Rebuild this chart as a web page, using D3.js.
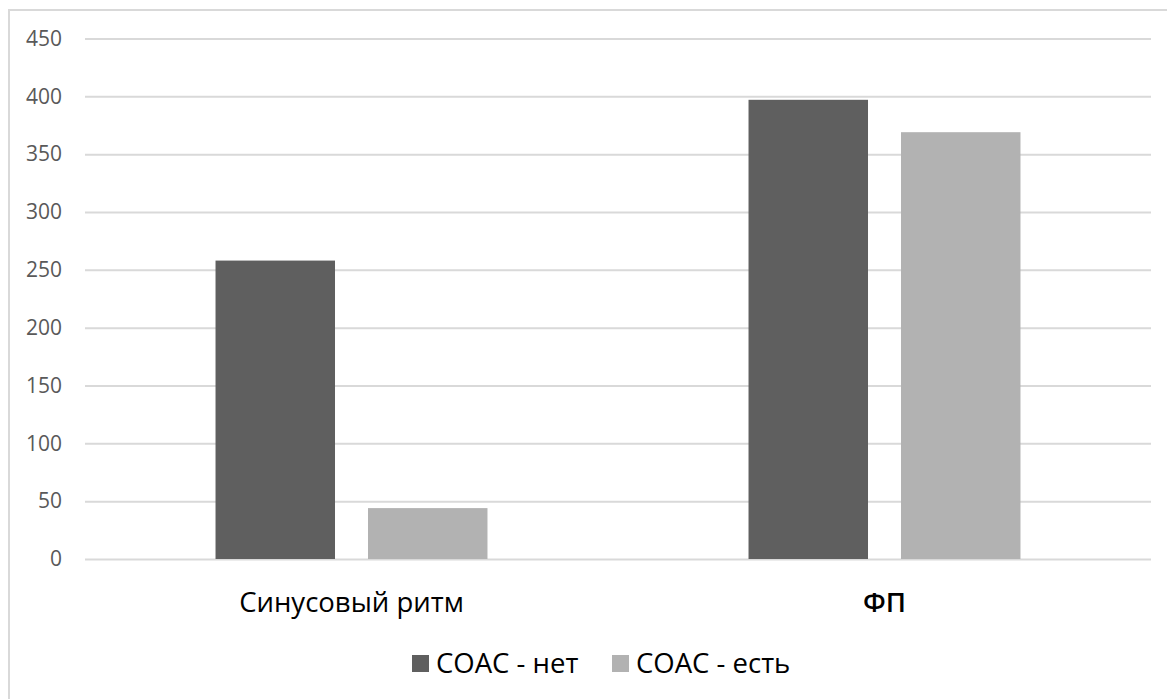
<!DOCTYPE html>
<html>
<head>
<meta charset="utf-8">
<script src="https://cdn.jsdelivr.net/npm/d3@7"></script>
<style>
  html, body { margin: 0; padding: 0; background: #fff; }
  svg { display: block; }
  text { font-family: "Open Sans", "Noto Sans", sans-serif; }
</style>
</head>
<body>
<svg id="chart" width="1167" height="699"></svg>
<script>
// Patients by rhythm type, split by presence of СОАС
const categories = ["Синусовый ритм", "ФП"];
const seriesNames = ["СОАС - нет", "СОАС - есть"];
const seriesNo = [258, 397];
const seriesYes = [44, 369];
const yTicks = [0, 50, 100, 150, 200, 250, 300, 350, 400, 450];

const colors = { "СОАС - нет": "#5f5f5f", "СОАС - есть": "#b2b2b2" };
const seriesValues = { "СОАС - нет": seriesNo, "СОАС - есть": seriesYes };

const svg = d3.select("#chart");
const plot = { left: 85, right: 1151, top: 38.5, bottom: 559 };

// chart frame
svg.append("path")
  .attr("d", `M9,${699 + 2} V10 H${1167 + 2}`)
  .attr("fill", "none")
  .attr("stroke", "#d9d9d9")
  .attr("stroke-width", 2);

const y = d3.scaleLinear().domain([0, 450]).range([plot.bottom, plot.top]);
const x0 = d3.scaleBand().domain(categories).range([plot.left, plot.right]).padding(0);
const x1 = d3.scaleBand().domain(seriesNames).range([0, x0.bandwidth()])
  .paddingInner(0.2164).paddingOuter(0.856);

// gridlines + y labels
const yAxis = d3.axisLeft(y).tickValues(yTicks).tickSize(-(plot.right - plot.left)).tickPadding(23);
const gy = svg.append("g").attr("transform", `translate(${plot.left},0)`).call(yAxis);
gy.select(".domain").remove();
gy.selectAll(".tick line").attr("stroke", "#d9d9d9").attr("stroke-width", 2);
gy.selectAll(".tick text")
  .attr("fill", "#595959")
  .style("font-size", "21px")
  .style("font-family", "'Open Sans', sans-serif");

// bars
const groups = svg.append("g").selectAll("g")
  .data(categories)
  .join("g")
  .attr("transform", d => `translate(${x0(d)},0)`);

groups.selectAll("rect")
  .data((c, i) => seriesNames.map(s => ({ s, v: seriesValues[s][i] })))
  .join("rect")
  .attr("x", d => x1(d.s))
  .attr("width", x1.bandwidth())
  .attr("y", d => y(d.v))
  .attr("height", d => y(0) - y(d.v))
  .attr("fill", d => colors[d.s]);

// category labels
svg.append("g").selectAll("text")
  .data(categories)
  .join("text")
  .attr("x", d => x0(d) + x0.bandwidth() / 2)
  .attr("y", 612)
  .attr("text-anchor", "middle")
  .attr("fill", "#000")
  .style("font-size", "27.5px")
  .style("font-weight", (d, i) => i === 1 ? 600 : 400)
  .text(d => d);

// legend
const legendItems = [
  { name: seriesNames[0], sx: 412, tx: 436 },
  { name: seriesNames[1], sx: 612, tx: 636 }
];
const lg = svg.append("g");
lg.selectAll("rect")
  .data(legendItems)
  .join("rect")
  .attr("x", d => d.sx).attr("y", 655)
  .attr("width", 17).attr("height", 17)
  .attr("fill", d => colors[d.name]);
lg.selectAll("text")
  .data(legendItems)
  .join("text")
  .attr("x", d => d.tx).attr("y", 673)
  .attr("fill", "#000")
  .style("font-size", "27.5px")
  .text(d => d.name);
</script>
</body>
</html>
